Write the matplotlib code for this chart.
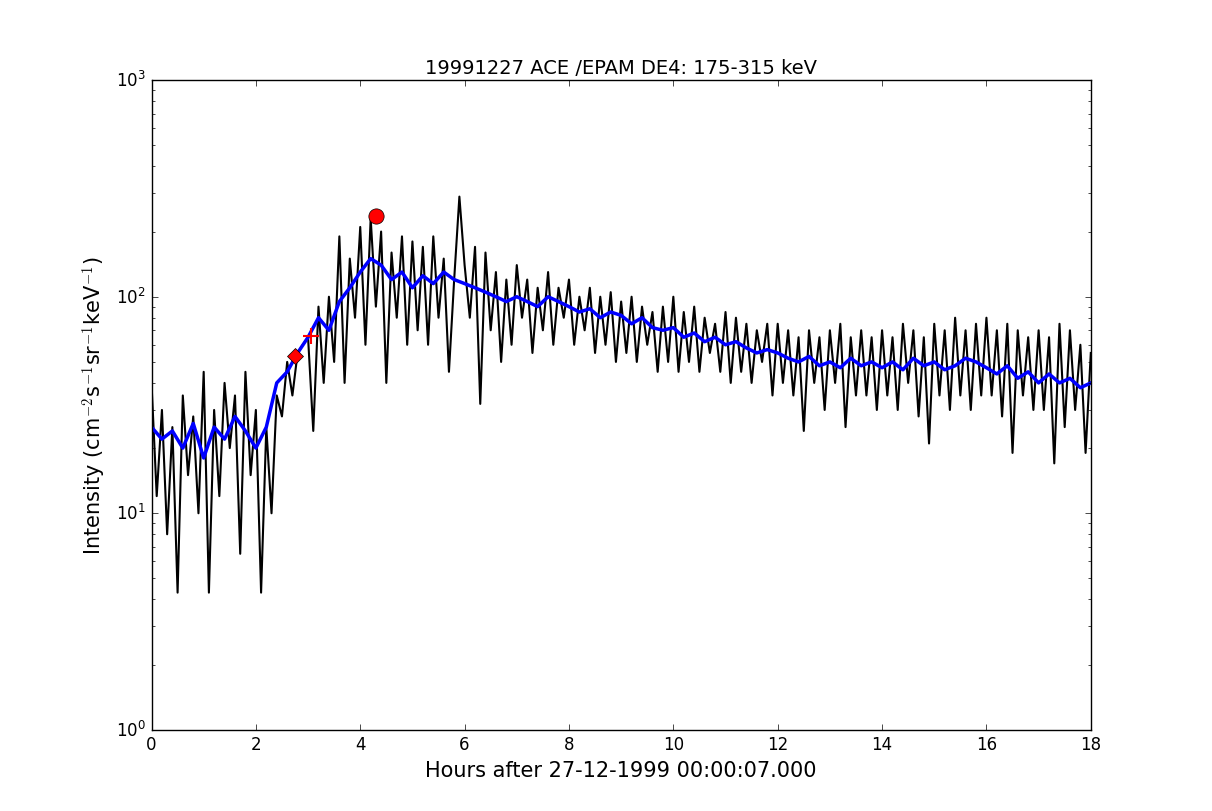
import matplotlib
matplotlib.use('Agg')
import matplotlib.pyplot as plt
import numpy as np

black_vals = [40,12,30,8,25,4.3,35,15,28,10,
45,4.3,30,12,40,20,35,6.5,45,15,
30,4.3,25,10,35,28,50,35,55,60,
65,24,90,40,100,50,190,40,150,80,
210,60,230,90,200,40,160,80,190,60,
180,70,170,60,190,80,150,45,120,290,
140,80,170,32,160,70,130,50,120,60,
140,80,120,55,110,70,130,60,110,80,
120,60,100,70,110,55,100,60,105,50,
95,55,100,50,90,60,85,45,90,50,
100,45,85,50,90,45,80,55,75,45,
85,40,80,45,75,40,70,50,75,35,
75,40,70,35,65,24,70,40,65,30,
70,40,75,25,65,35,70,35,65,30,
70,35,65,30,75,40,70,28,65,21,
75,35,70,30,80,35,70,30,75,35,
80,35,70,28,75,19,70,35,65,30,
70,30,65,17,75,25,70,30,60,19,
55]
black_t = [i*0.1 for i in range(len(black_vals))]

blue_vals = [25,22,24,20,26,18,25,22,28,24,
20,25,40,45,55,65,80,70,95,110,
130,150,140,120,130,110,125,115,130,120,
115,110,105,100,95,100,95,90,100,95,
90,85,88,80,85,82,75,80,72,70,
72,65,68,62,65,60,62,58,55,57,
55,52,50,53,48,50,47,52,48,50,
47,50,46,52,48,50,46,48,52,50,
47,44,48,42,45,40,44,40,42,38,
40]
blue_t = [i*0.2 for i in range(len(blue_vals))]

onset_t, onset_v = 2.75, 53
plus_t, plus_v = 3.05, 66
peak_t, peak_v = 4.3, 235

plt.style.use('classic')
fig = plt.figure(figsize=(12.12, 8.12), dpi=100, facecolor='white')
ax = fig.add_axes([0.125, 0.1, 0.775, 0.8])
ax.plot(black_t, black_vals, color='black', lw=1.5)
ax.plot(blue_t, blue_vals, color='blue', lw=2.5)
ax.plot([onset_t], [onset_v], 'rD', ms=8)
ax.plot([plus_t], [plus_v], 'r+', ms=12, mew=1.5)
ax.plot([peak_t], [peak_v], 'ro', ms=11, mec='black')
ax.set_yscale('log')
ax.set_xlim(0, 18)
ax.set_ylim(1, 1000)
ax.set_xticks(range(0, 19, 2))
ax.set_title('19991227 ACE /EPAM DE4: 175-315 keV', fontsize=14)
ax.set_xlabel('Hours after 27-12-1999 00:00:07.000', fontsize=15)
ax.set_ylabel(r'Intensity (cm$^{-2}$s$^{-1}$sr$^{-1}$keV$^{-1}$)', fontsize=15)
fig.savefig('out.png', dpi=100, facecolor='white')
